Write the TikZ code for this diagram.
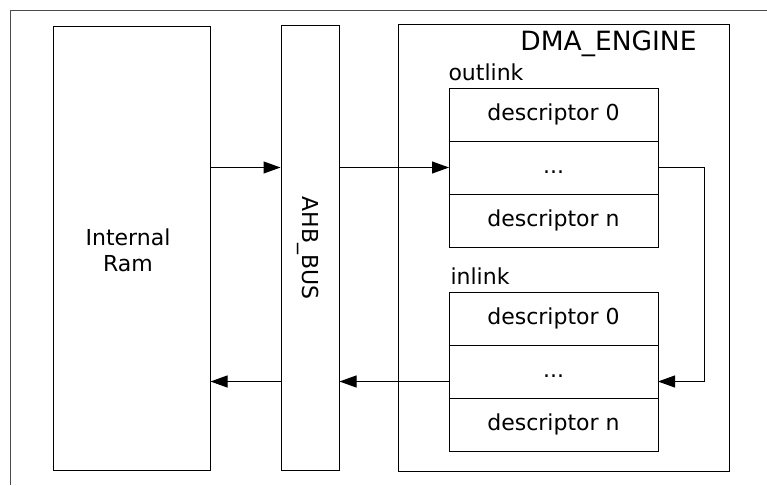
\documentclass[tikz,border=0pt]{standalone}
\usepackage{fontspec}
\setmainfont{DejaVu Sans}
\usetikzlibrary{arrows.meta,positioning}

\begin{document}
\begin{tikzpicture}[
  x=1pt, y=-1pt,
  font=\fontsize{22}{26}\selectfont,
  line width=1pt,
  block/.style={draw, rectangle, inner sep=0pt, align=center},
  row/.style={draw, rectangle, outer sep=0pt, minimum width=209pt,
    minimum height=53pt, text height=16.7pt, text depth=5pt},
  lbl/.style={inner sep=0pt},
  arr/.style={-{Triangle[length=17pt,width=12pt]}}
]
\useasboundingbox (0,0) rectangle (767,485);
\draw[black!70] (767,10) -- (10,10) -- (10,485);

\node[block, minimum width=157pt, minimum height=444pt] (ram) at (131.5,248) {};
\node[lbl, align=center] (ramlbl) at (128,250) {Internal\\Ram};
\node[block, minimum width=58pt, minimum height=445pt] (bus) at (310,247.5) {};
\node[lbl, rotate=-90] (buslbl) at (308,248) {AHB\_BUS};
\node[block, minimum width=331pt, minimum height=447pt] (dma) at (563.5,247.5) {};
\node[lbl, font=\fontsize{26.5}{30}\selectfont, anchor=base east] (dmalbl) at (697,50) {DMA\_ENGINE};

\node[row] (out0) at (553.5,114.5) {descriptor 0};
\node[row, below=0pt of out0] (outmid) {...};
\node[row, below=0pt of outmid] (outn) {descriptor n};
\node[lbl, above right=7pt and -1pt of out0.north west] (outlbl) {outlink};

\node[row] (in0) at (553.5,318.5) {descriptor 0};
\node[row, below=0pt of in0] (inmid) {...};
\node[row, below=0pt of inmid] (inn) {descriptor n};
\node[lbl, above right=7pt and 1pt of in0.north west] (inlbl) {inlink};

\coordinate (ret) at ([yshift=-10pt]inmid.center);

\draw[arr] (outmid.west -| ram.east) -- (outmid.west -| bus.west);
\draw[arr] (outmid.west -| bus.east) -- (outmid.west);
\draw[arr] (outmid.east) -- ++(46,0) |- (ret -| inmid.east);
\draw[arr] (ret -| inmid.west) -- (ret -| bus.east);
\draw[arr] (ret -| bus.west) -- (ret -| ram.east);
\end{tikzpicture}
\end{document}
